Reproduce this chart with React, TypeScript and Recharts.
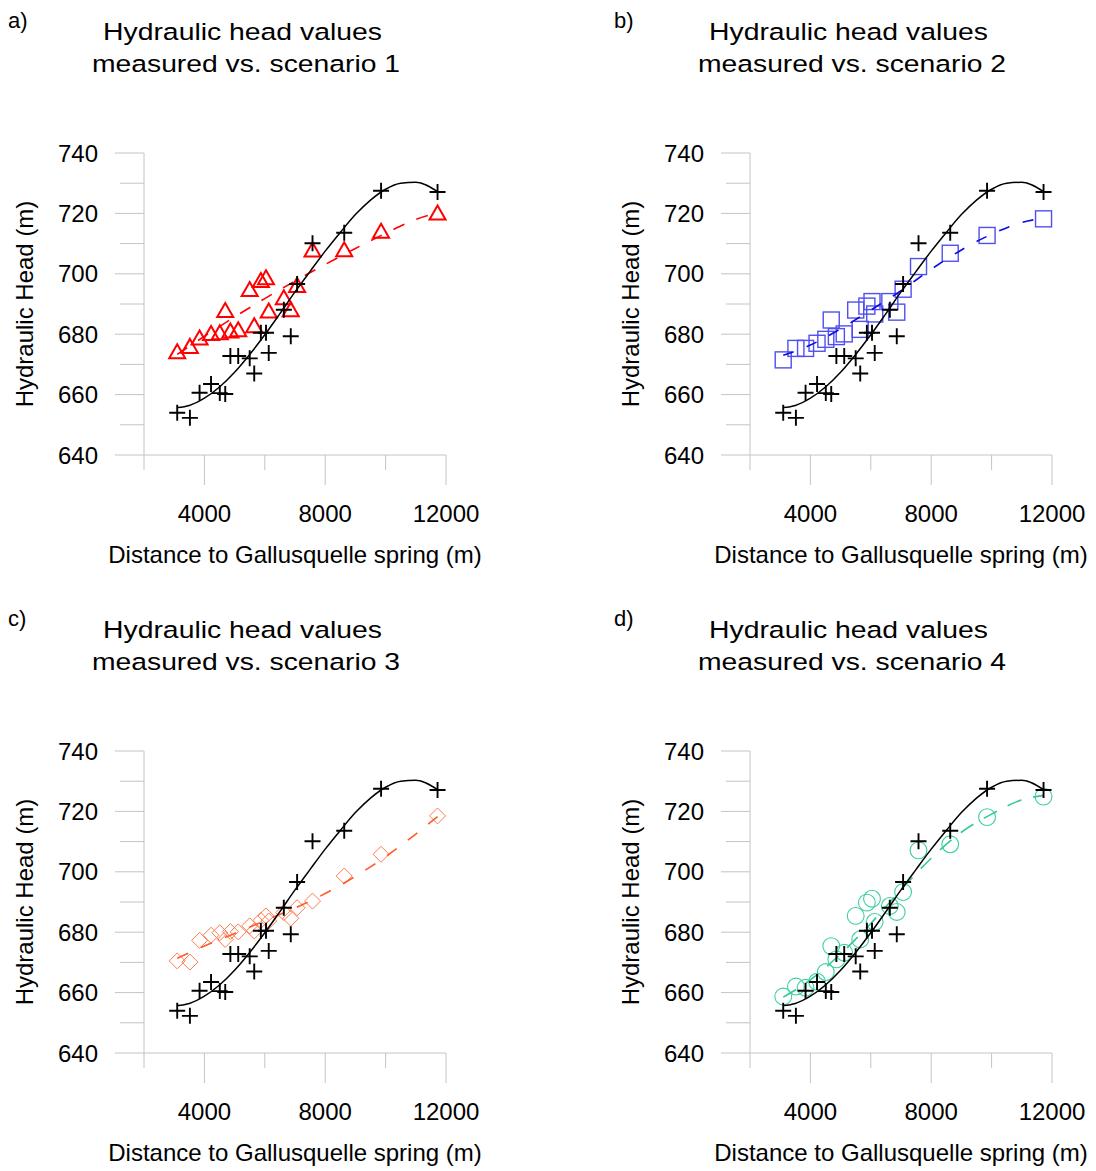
import React from "react";
import { ScatterChart, Scatter, XAxis, YAxis, Label } from "recharts";

// well positions (distance to spring, m) - shared by measured and modelled heads
const wellDistance = [3100, 3520, 3840, 4220, 4510, 4690, 4860, 5120, 5500, 5650, 5870, 6040, 6130, 6630, 6860, 7070, 7580, 8630, 9850, 11720];
const measuredHead = [654.0, 652.3, 660.6, 663.5, 660.5, 660.2, 672.8, 672.8, 672.0, 667.0, 680.5, 680.5, 673.8, 688.1, 679.3, 696.6, 710.1, 713.6, 727.5, 727.1];
const scenario1Head = [674.0, 675.8, 678.6, 680.1, 680.3, 687.7, 680.9, 681.3, 694.6, 682.6, 697.6, 698.5, 687.5, 691.9, 687.9, 696.0, 707.7, 707.8, 713.9, 720.0];
const scenario2Head = [671.5, 675.3, 675.3, 677.0, 678.3, 684.7, 679.2, 680.1, 688.0, 681.6, 689.3, 690.8, 686.7, 690.8, 687.3, 694.9, 702.4, 706.8, 712.7, 718.2];
const scenario3Head = [670.5, 670.1, 677.3, 679.0, 679.8, 677.6, 680.2, 680.1, 682.1, 680.4, 683.9, 685.4, 683.7, 686.5, 684.6, 688.1, 690.3, 698.6, 705.8, 718.5];
const scenario4Head = [658.7, 662.0, 661.6, 663.6, 666.8, 675.4, 671.0, 673.2, 685.4, 677.6, 689.8, 691.1, 683.4, 688.7, 686.7, 693.3, 707.1, 709.1, 718.1, 724.9];

// trend line of the measured heads (solid black)
const measuredFitDistance = [3100, 3500, 4000, 4500, 5000, 5500, 6000, 6500, 7000, 7500, 8000, 8500, 9000, 9500, 10000, 10500, 11000, 11720];
const measuredFitHead = [655.7, 656.4, 658.8, 662.5, 667.4, 673.3, 679.8, 686.8, 694.0, 700.8, 707.5, 713.7, 719.6, 724.4, 728.0, 730.0, 730.3, 727.2];

// dashed trend lines of the scenarios
const trendDistance = [3100, 4000, 5000, 6000, 7000, 8000, 9000, 10000, 11000, 11720];
const scenario1Trend = [673.3, 679.3, 685.7, 691.8, 697.6, 703.1, 708.4, 713.4, 718.0, 720.2];
const scenario2Trend = [673.0, 676.4, 681.8, 688.0, 694.4, 701.5, 707.9, 713.1, 717.0, 718.4];
const scenario3Trend = [671.4, 675.4, 679.6, 683.8, 688.0, 692.8, 698.5, 705.0, 712.5, 718.3];
const scenario4Trend = [658.5, 664.2, 672.8, 682.9, 694.0, 704.5, 713.1, 719.1, 723.8, 725.3];

const xTicks = [2000, 4000, 6000, 8000, 10000, 12000];
const xLabelled = [4000, 8000, 12000];
const yTicks = [640, 650, 660, 670, 680, 690, 700, 710, 720, 730, 740];
const yLabelled = [640, 660, 680, 700, 720, 740];

const FONT = '"Liberation Sans", Arial, sans-serif';
const AXIS = "#c4c4c4";

const toPoints = (xs: number[], ys: number[]) => xs.map((x, i) => ({ x, y: ys[i] }));

const Cross = (p: any) => (
  <path
    d={`M${p.cx - 8},${p.cy}H${p.cx + 8}M${p.cx},${p.cy - 8}V${p.cy + 8}`}
    stroke="#000"
    strokeWidth={1.9}
    fill="none"
  />
);

const Triangle = (p: any) => (
  <path
    d={`M${p.cx},${p.cy - 8}L${p.cx + 8},${p.cy + 6}L${p.cx - 8},${p.cy + 6}Z`}
    stroke="#ff0000"
    strokeWidth={2}
    fill="none"
  />
);

const Square = (p: any) => (
  <rect x={p.cx - 8} y={p.cy - 8} width={16} height={16} stroke="#5050f0" strokeWidth={1.4} fill="none" />
);

const Diamond = (p: any) => (
  <path
    d={`M${p.cx},${p.cy - 8}L${p.cx + 8},${p.cy}L${p.cx},${p.cy + 8}L${p.cx - 8},${p.cy}Z`}
    stroke="#ff7a50"
    strokeWidth={1}
    fill="none"
  />
);

const Circle = (p: any) => (
  <circle cx={p.cx} cy={p.cy} r={8.4} stroke="#3dd09c" strokeWidth={1.1} fill="none" />
);

const NoDot = () => <g />;

const YTick = (p: any) => {
  const v = p.payload.value;
  const major = yLabelled.includes(v);
  return (
    <g>
      <line x1={p.x - (major ? 29 : 24)} y1={p.y} x2={p.x} y2={p.y} stroke={AXIS} />
      {major && (
        <text x={p.x - 46} y={p.y} textAnchor="end" dominantBaseline="central" fontSize={24} fontFamily={FONT} fill="#000">
          {v}
        </text>
      )}
    </g>
  );
};

const XTick = (p: any) => {
  const v = p.payload.value;
  const major = xLabelled.includes(v);
  return (
    <g>
      <line x1={p.x} y1={p.y} x2={p.x} y2={p.y + (major ? 30 : 15)} stroke={AXIS} />
      {major && (
        <text x={p.x} y={p.y + 58} textAnchor="middle" dominantBaseline="central" fontSize={24} fontFamily={FONT} fill="#000">
          {v}
        </text>
      )}
    </g>
  );
};

type PanelProps = {
  left: number;
  top: number;
  letter: string;
  scenario: number;
  heads: number[];
  trend: number[];
  shape: (p: any) => React.ReactElement;
  trendColor: string;
  dash: string;
};

const Panel = ({ left, top, letter, scenario, heads, trend, shape, trendColor, dash }: PanelProps) => (
  <div style={{ position: "absolute", left, top, width: 500, height: 580 }}>
    <ScatterChart width={500} height={580} margin={{ top: 153, right: 54, bottom: 0, left: 0 }}>
      <XAxis
        type="number"
        dataKey="x"
        domain={[2000, 12000]}
        ticks={xTicks}
        interval={0}
        height={125}
        axisLine={{ stroke: AXIS }}
        tickLine={false}
        tickSize={0}
        tickMargin={0}
        tick={<XTick />}
      >
        <Label
          content={() => (
            <text x={295} y={563} textAnchor="middle" fontSize={24} fontFamily={FONT} fill="#000">
              Distance to Gallusquelle spring (m)
            </text>
          )}
        />
      </XAxis>
      <YAxis
        type="number"
        dataKey="y"
        domain={[640, 740]}
        ticks={yTicks}
        interval={0}
        width={144}
        axisLine={{ stroke: AXIS }}
        tickLine={false}
        tickSize={0}
        tickMargin={0}
        tick={<YTick />}
      >
        <Label
          content={() => (
            <text
              x={33}
              y={304}
              transform="rotate(-90 33 304)"
              textAnchor="middle"
              fontSize={24}
              fontFamily={FONT}
              fill="#000"
            >
              Hydraulic Head (m)
            </text>
          )}
        />
      </YAxis>
      <Scatter data={toPoints(wellDistance, heads)} shape={shape} fill="none" isAnimationActive={false} />
      <Scatter
        data={toPoints(trendDistance, trend)}
        shape={NoDot}
        fill="none"
        line={{ stroke: trendColor, strokeWidth: 1.6, strokeDasharray: dash }}
        lineJointType="monotoneX"
        isAnimationActive={false}
      />
      <Scatter data={toPoints(wellDistance, measuredHead)} shape={Cross} fill="none" isAnimationActive={false} />
      <Scatter
        data={toPoints(measuredFitDistance, measuredFitHead)}
        shape={NoDot}
        fill="none"
        line={{ stroke: "#000", strokeWidth: 1.5 }}
        lineJointType="monotoneX"
        isAnimationActive={false}
      />
    </ScatterChart>
    <svg width={500} height={100} style={{ position: "absolute", left: 0, top: 0, pointerEvents: "none" }}>
      <text x={8} y={28} fontSize={22} fontFamily={FONT} fill="#000">
        {letter}
      </text>
      <text
        x={242.5}
        y={40}
        textAnchor="middle"
        textLength={279}
        lengthAdjust="spacingAndGlyphs"
        fontSize={24.5}
        fontFamily={FONT}
        fill="#000"
      >
        Hydraulic head values
      </text>
      <text
        x={246}
        y={72}
        textAnchor="middle"
        textLength={308}
        lengthAdjust="spacingAndGlyphs"
        fontSize={24.5}
        fontFamily={FONT}
        fill="#000"
      >
        {`measured vs. scenario ${scenario}`}
      </text>
    </svg>
  </div>
);

export default function App() {
  return (
    <div style={{ position: "absolute", left: 0, top: 0, width: 1096, height: 1171, background: "#fff", overflow: "hidden" }}>
      <Panel left={0} top={0} letter="a)" scenario={1} heads={scenario1Head} trend={scenario1Trend} shape={Triangle} trendColor="#ff0000" dash="12 13" />
      <Panel left={606} top={0} letter="b)" scenario={2} heads={scenario2Head} trend={scenario2Trend} shape={Square} trendColor="#0a0ae6" dash="11 14" />
      <Panel left={0} top={598} letter="c)" scenario={3} heads={scenario3Head} trend={scenario3Trend} shape={Diamond} trendColor="#ff5a2a" dash="12 14" />
      <Panel left={606} top={598} letter="d)" scenario={4} heads={scenario4Head} trend={scenario4Trend} shape={Circle} trendColor="#35c995" dash="15 12" />
    </div>
  );
}
